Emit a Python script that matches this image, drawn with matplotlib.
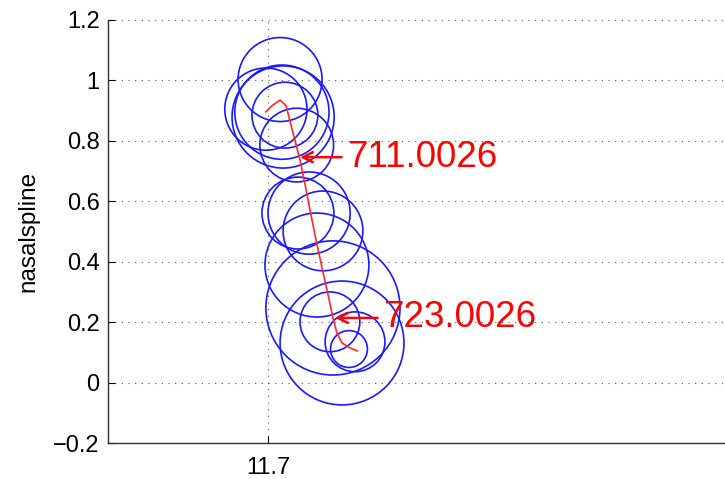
import matplotlib
matplotlib.use("Agg")
import matplotlib.pyplot as plt
from matplotlib.patches import Circle

# ---- data ----
circle_x = [11.740, 11.693, 11.750, 11.746, 11.756, 11.795, 11.799, 11.836,
            11.882, 11.862, 11.915, 11.945, 11.905, 11.988, 11.968]
circle_y = [1.003, 0.905, 0.879, 0.895, 0.885, 0.786, 0.561, 0.561,
            0.502, 0.389, 0.247, 0.131, 0.201, 0.135, 0.111]
circle_r = [0.139, 0.136, 0.169, 0.156, 0.109, 0.122, 0.119, 0.136,
            0.132, 0.172, 0.222, 0.205, 0.099, 0.099, 0.061]

curve_x = [11.693, 11.713, 11.740, 11.760, 11.776, 11.793, 11.806, 11.823,
           11.839, 11.859, 11.879, 11.899, 11.915, 11.928, 11.945, 11.971, 11.995]
curve_y = [0.896, 0.916, 0.935, 0.916, 0.853, 0.787, 0.737, 0.654,
           0.571, 0.472, 0.379, 0.290, 0.214, 0.164, 0.131, 0.115, 0.105]

annot_labels = ["711.0026", "723.0026"]
annot_x = [11.806, 11.922]
annot_y = [0.746, 0.214]
annot_text_x = [11.962, 12.081]

yticks = [-0.2, 0, 0.2, 0.4, 0.6, 0.8, 1.0, 1.2]
ytick_labels = ["\u22120.2", "0", "0.2", "0.4", "0.6", "0.8", "1", "1.2"]
xticks = [11.7]
xtick_labels = ["11.7"]
ylabel = "nasalspline"

# ---- figure ----
W, H = 725, 479
fig = plt.figure(figsize=(W / 100, H / 100), dpi=100)
plt.rcParams['font.family'] = ['Liberation Sans', 'DejaVu Sans']

ax_left_px, ax_right_px, ax_top_px, ax_bot_px = 108, 760, 20, 443
ax = fig.add_axes([ax_left_px / W, (H - ax_bot_px) / H,
                   (ax_right_px - ax_left_px) / W, (ax_bot_px - ax_top_px) / H])

ymin, ymax = -0.2, 1.2
ppu = (ax_bot_px - ax_top_px) / (ymax - ymin)
x0_px = 268
xmin = 11.7 - (x0_px - ax_left_px) / ppu
xmax = 11.7 + (ax_right_px - x0_px) / ppu
ax.set_xlim(xmin, xmax)
ax.set_ylim(ymin, ymax)

for cx, cy, r in zip(circle_x, circle_y, circle_r):
    ax.add_patch(Circle((cx, cy), r, fill=False, edgecolor='#1a1aff', lw=1.2))

ax.plot(curve_x, curve_y, color='#ff2a2a', lw=1.2)

for lab, px, py, tx in zip(annot_labels, annot_x, annot_y, annot_text_x):
    ax.annotate(lab, xy=(px, py), xytext=(tx, py), color='red', fontsize=26.5,
                va='center', ha='left',
                arrowprops=dict(arrowstyle='->', color='red', lw=1.8,
                                shrinkA=2, shrinkB=0, mutation_scale=18))

ax.set_yticks(yticks)
ax.set_yticklabels(ytick_labels)
ax.set_xticks(xticks)
ax.set_xticklabels(xtick_labels)
ax.tick_params(direction='in', length=5, labelsize=17, colors='black', width=0.8)
ax.tick_params(axis='y', pad=6)
ax.tick_params(axis='x', pad=10)
ax.grid(True, color='#555555', linestyle=(0, (1, 5)), lw=0.8)
ax.set_axisbelow(True)
ax.spines['top'].set_visible(False)
ax.spines['right'].set_visible(False)
for s in ['left', 'bottom']:
    ax.spines[s].set_color('#333333')
    ax.spines[s].set_linewidth(1.0)
ax.set_ylabel(ylabel, fontsize=17.5, labelpad=10)

fig.savefig("out.png", dpi=100)
